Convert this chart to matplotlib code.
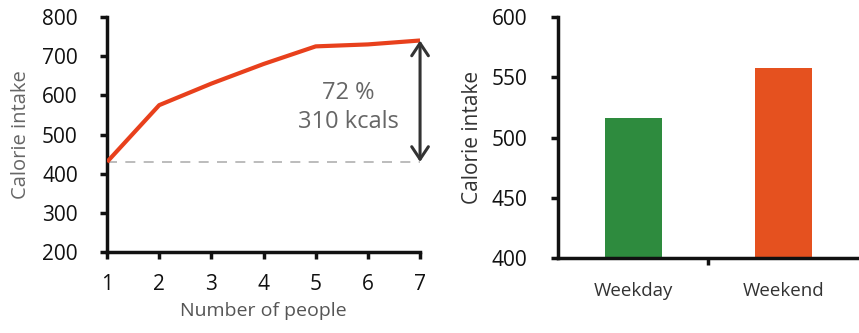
import matplotlib
matplotlib.use("Agg")
import matplotlib.pyplot as plt
import numpy as np

plt.rcParams['font.family'] = ['Open Sans', 'DejaVu Sans']

# left panel: intake by household size
people = [1, 2, 3, 4, 5, 6, 7]
intake = [430, 575, 630, 680, 725, 730, 740]
base_val = 430
top_val = 740
ann_text = "72 %\n310 kcals"

# right panel: weekday vs weekend
days = ["Weekday", "Weekend"]
day_intake = [516, 558]
day_colors = ["#2e8b3e", "#e5511f"]

fig = plt.figure(figsize=(8.59, 3.33), dpi=100)

ax1 = fig.add_axes([0.1246, 0.243, 0.3644, 0.706])
ax1.plot(people, intake, color="#e8401c", lw=3, solid_capstyle="butt", zorder=3)
ax1.plot([people[0], people[-1]], [base_val, base_val], ls=(0, (6, 5)), color="#b0b0b0", lw=1.2)
ax1.annotate("", xy=(people[-1], top_val), xytext=(people[-1], base_val),
             arrowprops=dict(arrowstyle="<->,head_length=0.45,head_width=0.3",
                             color="#333333", lw=2.2, mutation_scale=20,
                             shrinkA=0, shrinkB=0))
ax1.text(5.62, 569, ann_text, ha="center", va="center", fontsize=17,
         color="#666666", linespacing=1.25)
ax1.set_xlim(1, 7)
ax1.set_ylim(200, 800)
ax1.set_xticks(people)
ax1.set_yticks(range(200, 801, 100))
ax1.set_xlabel("Number of people", fontsize=14, color="#555555", labelpad=5)
ax1.set_ylabel("Calorie intake", fontsize=14.5, color="#666666", labelpad=8)

ax2 = fig.add_axes([0.6496, 0.225, 0.35, 0.724])
xpos = np.arange(len(days))
ax2.bar(xpos, day_intake, width=0.38, color=day_colors)
ax2.set_xlim(-0.5, 1.5)
ax2.set_ylim(400, 600)
ax2.set_xticks([0.5])
ax2.set_xticklabels([""])
ax2.set_xticks(xpos, minor=True)
ax2.set_xticklabels(days, minor=True)
ax2.set_yticks(range(400, 601, 50))
ax2.set_ylabel("Calorie intake", fontsize=15, color="#333333", labelpad=6)

for ax in (ax1, ax2):
    for s in ("top", "right"):
        ax.spines[s].set_visible(False)
    for s in ("left", "bottom"):
        ax.spines[s].set_linewidth(2.5)
        ax.spines[s].set_color("#111111")
    ax.tick_params(axis="both", which="major", length=5, width=2.5, color="#111111",
                   labelsize=15, labelcolor="#111111")
ax1.tick_params(axis="x", which="major", pad=11)
ax1.tick_params(axis="y", which="major", pad=16)
ax2.tick_params(axis="y", which="major", pad=17)
ax2.tick_params(axis="x", which="minor", length=0, labelsize=13.5, labelcolor="#333333", pad=17)

fig.savefig("out.png", dpi=100, facecolor="white")
